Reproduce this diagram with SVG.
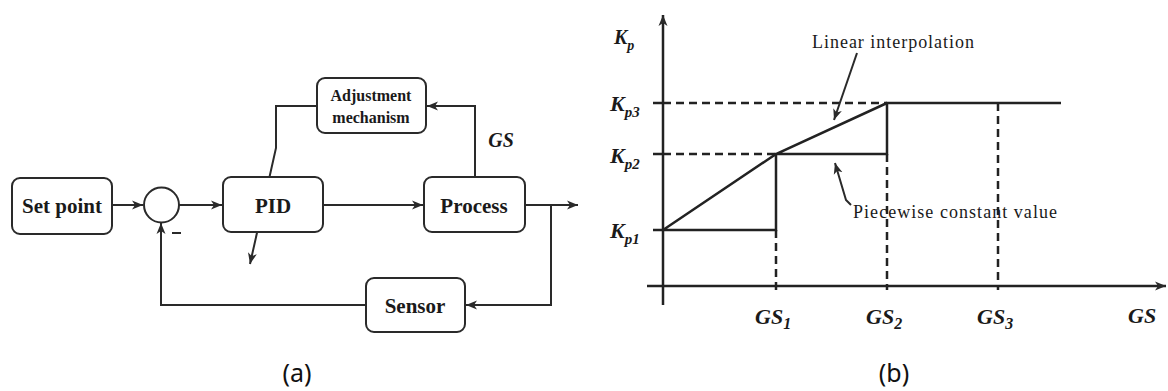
<svg xmlns="http://www.w3.org/2000/svg" width="1168" height="391" viewBox="0 0 1168 391">
<style>
.box{fill:#fff;stroke:#2a2a2a;stroke-width:2}
.ln{fill:none;stroke:#2a2a2a;stroke-width:2}
.ax{fill:none;stroke:#222;stroke-width:2.5}
.dash{fill:none;stroke:#222;stroke-width:2.5;stroke-dasharray:8 5}
.bt{font-family:'Liberation Serif','DejaVu Serif','Times New Roman',serif;font-weight:bold;fill:#1a1a1a;text-anchor:middle}
.it{font-family:'Liberation Serif','DejaVu Serif','Times New Roman',serif;font-weight:bold;font-style:italic;fill:#1a1a1a}
.rt{font-family:'Liberation Serif','DejaVu Serif','Times New Roman',serif;fill:#1a1a1a}
.cap{font-family:'Noto Sans','Open Sans',sans-serif;fill:#111;text-anchor:middle;font-size:25px}
</style>
<defs>
<marker id="ah" markerWidth="12" markerHeight="10" refX="11" refY="5" orient="auto" markerUnits="userSpaceOnUse">
<path d="M0,0.5 L11,5 L0,9.5 L3,5 Z" fill="#2a2a2a"/>
</marker>
</defs>
<g id="connectors">
<path class="ln" d="M317,106 H276 V148 L250,264" marker-end="url(#ah)"/>
<path class="ln" d="M112,205 H143" marker-end="url(#ah)"/>
<path class="ln" d="M179,205 H222" marker-end="url(#ah)"/>
<path class="ln" d="M323,205 H423" marker-end="url(#ah)"/>
<path class="ln" d="M525,205 H578" marker-end="url(#ah)"/>
<path class="ln" d="M551,205 V305 H466" marker-end="url(#ah)"/>
<path class="ln" d="M366,305 H161 V223" marker-end="url(#ah)"/>
<path class="ln" d="M475,177 V106 H427" marker-end="url(#ah)"/>
<line class="ln" x1="172" y1="233" x2="181" y2="233" stroke-width="1.5"/>
</g>
<g id="setpoint"><rect class="box" x="12" y="178" width="100" height="56" rx="8"/><text class="bt" x="62" y="213" font-size="21">Set point</text></g>
<g id="sum"><circle class="box" cx="161.5" cy="205" r="17.5"/></g>
<g id="pid"><rect class="box" x="223" y="177" width="100" height="55" rx="8"/><text class="bt" x="273" y="213" font-size="21">PID</text></g>
<g id="process"><rect class="box" x="424" y="177" width="101" height="55" rx="8"/><text class="bt" x="474" y="213" font-size="21">Process</text></g>
<g id="sensor"><rect class="box" x="366" y="278" width="99" height="54" rx="8"/><text class="bt" x="415" y="313" font-size="21">Sensor</text></g>
<g id="adjust"><rect class="box" x="317" y="78" width="109" height="55" rx="8"/><text class="bt" x="371" y="101" font-size="16">Adjustment</text><text class="bt" x="371" y="123" font-size="16">mechanism</text></g>
<text class="it" x="501" y="147" font-size="20" text-anchor="middle">GS</text>
<text class="cap" x="297" y="382">(a)</text>
<g id="chart">
<path class="ax" d="M663,305 V15" marker-end="url(#ah)"/>
<path class="ax" d="M647,286 H1166" marker-end="url(#ah)"/>
<path class="ax" d="M653,103 H663 M653,154 H663 M653,230 H663"/>
<path class="dash" d="M663,103 H887 M663,154 H776 M776,230 V290 M887,154 V290 M998,103 V290"/>
<path class="ax" d="M663,230 H776 V154 H887 V103 H1061 M663,230 L776,154 L887,103"/>
<path class="ln" d="M857,53 L834,120" marker-end="url(#ah)" stroke-width="2.5"/>
<path class="ln" d="M851,205 L846,200 L835,163" marker-end="url(#ah)" stroke-width="2.5"/>
<text class="rt" x="812" y="48" font-size="18" textLength="162">Linear interpolation</text>
<text class="rt" x="853" y="218" font-size="18" textLength="204">Piecewise constant value</text>
<text class="it" x="614" y="44" font-size="20">K<tspan font-size="14" dy="6">p</tspan></text>
<text class="it" x="610" y="111" font-size="22">K<tspan font-size="15" dy="6">p3</tspan></text>
<text class="it" x="610" y="163" font-size="22">K<tspan font-size="15" dy="6">p2</tspan></text>
<text class="it" x="610" y="238" font-size="22">K<tspan font-size="15" dy="6">p1</tspan></text>
<text class="it" x="755" y="324" font-size="22">GS<tspan font-size="16" dy="5">1</tspan></text>
<text class="it" x="866" y="324" font-size="22">GS<tspan font-size="16" dy="5">2</tspan></text>
<text class="it" x="977" y="324" font-size="22">GS<tspan font-size="16" dy="5">3</tspan></text>
<text class="it" x="1128" y="323" font-size="22">GS</text>
</g>
<text class="cap" x="894" y="382">(b)</text>
</svg>
